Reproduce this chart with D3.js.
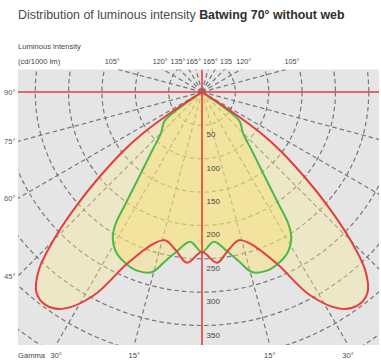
<!DOCTYPE html>
<html>
<head>
<meta charset="utf-8">
<script src="https://cdn.jsdelivr.net/npm/d3@7"></script>
<style>
  html, body { margin: 0; padding: 0; background: #ffffff; }
  svg { display: block; font-family: "Liberation Sans", Arial, sans-serif; }
</style>
</head>
<body>
<svg id="chart" width="381" height="362"></svg>
<script>
// Luminous intensity (cd/1000 lm) against gamma angle, one half of each plane
// (the distribution is symmetric, the other half is its mirror image).
const redGamma = [0, 5, 9.5, 14, 18, 23.5, 28, 32.5, 36, 39.5, 42.5, 45.5, 48, 50, 53, 55, 56.5, 57];
const redCd    = [240, 257, 240, 229, 240, 280, 345, 385, 396, 390, 362, 305, 250, 207, 150, 108, 55, 0];

const greenGamma = [0, 4.5, 9, 12.5, 15.5, 20, 23.5, 28, 31.5, 33.3, 34.3, 35.6, 37.5, 40.3, 45, 49, 52.5, 53.5];
const greenCd    = [240, 225, 242, 261, 280, 285, 282, 273, 256, 235, 205, 175, 145, 116, 87, 78, 70, 0];

// Grid and tick labels
const gridCircles = [50, 100, 150, 200, 250, 300, 350, 400, 450];
const intensityTicks = [50, 100, 150, 200, 250, 300, 350];
const gridGammas = [15, 30, 45, 60, 75, 105, 120, 135, 150, 165];
const sideTickGammas = [90, 75, 60, 45];
const sideTickLabels = ["90°", "75°", "60°", "45°"];
const topTickGammas = [105, 120, 135, 165];
const topTickLabelsLeft = ["105°", "120°", "135°", "165°"];
const topTickLabelsRight = ["105°", "120°", "135", "165°"];
const bottomTickGammas = [30, 15];
const bottomTickLabels = ["30°", "15°"];

const titleNormal = "Distribution of luminous intensity ";
const titleBold = "Batwing 70° without web";

const svg = d3.select("#chart");
const plot = { x0: 18, x1: 379, y0: 69.5, y1: 345 };
const cx = 202, cy = 92;

const r = d3.scaleLinear().domain([0, 350]).range([0, 233.5]);
// gamma 0 points straight down; positive gamma to the right
const ang = d3.scaleLinear().domain([0, 180]).range([Math.PI, 0]);
const deg = d => d * Math.PI / 180;

// Title
const title = svg.append("text").attr("x", 18).attr("y", 18.5).attr("font-size", 12.4);
title.append("tspan").attr("fill", "#4a4a4a").text(titleNormal);
title.append("tspan").attr("fill", "#2e2e2e").attr("font-weight", "bold").text(titleBold);

svg.append("text").attr("x", 18).attr("y", 48.5).attr("font-size", 7.6).attr("fill", "#444")
  .text("Luminous intensity");
svg.append("text").attr("x", 18).attr("y", 63.5).attr("font-size", 7.6).attr("fill", "#444")
  .text("(cd/1000 lm)");

// Plot background
svg.append("rect")
  .attr("x", plot.x0).attr("y", plot.y0)
  .attr("width", plot.x1 - plot.x0).attr("height", plot.y1 - plot.y0)
  .attr("fill", "#e5e5e5");

svg.append("clipPath").attr("id", "plotClip")
  .append("rect")
  .attr("x", plot.x0).attr("y", plot.y0)
  .attr("width", plot.x1 - plot.x0).attr("height", plot.y1 - plot.y0);

const g = svg.append("g").attr("clip-path", "url(#plotClip)");
const c = g.append("g").attr("transform", `translate(${cx},${cy})`);

// Dashed grid: circles of equal intensity
c.selectAll("circle.grid").data(gridCircles).join("circle")
  .attr("class", "grid")
  .attr("r", d => r(d))
  .attr("fill", "none")
  .attr("stroke", "#777")
  .attr("stroke-width", 1.2)
  .attr("stroke-dasharray", "4.5,3");

// Dashed grid: rays every 15 degrees on both sides
const rays = gridGammas.flatMap(d => [d, -d]);
c.selectAll("line.ray").data(rays).join("line")
  .attr("class", "ray")
  .attr("x1", 0).attr("y1", 0)
  .attr("x2", d => 600 * Math.sin(deg(d)))
  .attr("y2", d => 600 * Math.cos(deg(d)))
  .attr("stroke", "#777")
  .attr("stroke-width", 1.2)
  .attr("stroke-dasharray", "4.5,3");

// Main axes
const axisRed = "#e63c3c";
g.append("line").attr("x1", plot.x0).attr("x2", plot.x1).attr("y1", cy).attr("y2", cy)
  .attr("stroke", axisRed).attr("stroke-width", 1.6);
g.append("line").attr("x1", cx).attr("x2", cx).attr("y1", plot.y0).attr("y2", plot.y1)
  .attr("stroke", axisRed).attr("stroke-width", 1.6);

// Curves
function fullCurve(gammas, values) {
  const right = gammas.map((gm, i) => [gm, values[i]]);
  const left = right.slice(1).reverse().map(([gm, v]) => [-gm, v]);
  return left.concat(right);
}
const radial = d3.lineRadial()
  .angle(d => ang(d[0]))
  .radius(d => r(d[1]))
  .curve(d3.curveCatmullRom.alpha(0.5));

const redPts = fullCurve(redGamma, redCd);
const greenPts = fullCurve(greenGamma, greenCd);

c.append("path").attr("d", radial(redPts) + "Z")
  .attr("fill", "rgb(246,236,156)").attr("fill-opacity", 0.4).attr("stroke", "none");
c.append("path").attr("d", radial(greenPts) + "Z")
  .attr("fill", "rgb(253,224,100)").attr("fill-opacity", 0.4).attr("stroke", "none");

c.append("path").attr("d", radial(greenPts))
  .attr("fill", "none").attr("stroke", "#4cb84a").attr("stroke-width", 2)
  .attr("stroke-linejoin", "round");
c.append("path").attr("d", radial(redPts))
  .attr("fill", "none").attr("stroke", "#e63c3c").attr("stroke-width", 2)
  .attr("stroke-linejoin", "round");

// Intensity labels along the vertical axis
svg.selectAll("text.cd").data(intensityTicks).join("text")
  .attr("class", "cd")
  .attr("x", cx + 4.5)
  .attr("y", d => cy + r(d) + 12)
  .attr("font-size", 8)
  .attr("fill", "#444")
  .text(d => d);

// Angle labels on the left edge
svg.selectAll("text.side").data(sideTickGammas).join("text")
  .attr("class", "side")
  .attr("x", 15.5)
  .attr("y", d => cy + (cx - plot.x0) / Math.tan(deg(d)) * (d === 90 ? 0 : 1) + 3)
  .attr("text-anchor", "end")
  .attr("font-size", 7.6)
  .attr("fill", "#555")
  .text((d, i) => sideTickLabels[i]);

// Angle labels along the top edge, where each ray leaves the plot
const topDy = cy - plot.y0;
function topOffset(gm) {
  const off = topDy * Math.tan(deg(180 - gm)) * 1.07;
  return Math.max(off, 8.5);
}
svg.selectAll("text.topL").data(topTickGammas).join("text")
  .attr("class", "topL")
  .attr("x", d => cx - topOffset(d))
  .attr("y", 63.5)
  .attr("text-anchor", "middle")
  .attr("font-size", 7.2)
  .attr("fill", "#444")
  .text((d, i) => topTickLabelsLeft[i]);
svg.selectAll("text.topR").data(topTickGammas).join("text")
  .attr("class", "topR")
  .attr("x", d => cx + topOffset(d))
  .attr("y", 63.5)
  .attr("text-anchor", "middle")
  .attr("font-size", 7.2)
  .attr("fill", "#444")
  .text((d, i) => topTickLabelsRight[i]);

// Gamma labels along the bottom edge
const botDy = plot.y1 - cy;
svg.append("text").attr("x", 18).attr("y", 358).attr("font-size", 7.6).attr("fill", "#444").text("Gamma");
[-1, 1].forEach(side => {
  svg.selectAll(null).data(bottomTickGammas).join("text")
    .attr("x", d => cx + side * botDy * Math.tan(deg(d)))
    .attr("y", 358)
    .attr("text-anchor", "middle")
    .attr("font-size", 7.6)
    .attr("fill", "#444")
    .text((d, i) => bottomTickLabels[i]);
});
</script>
</body>
</html>
